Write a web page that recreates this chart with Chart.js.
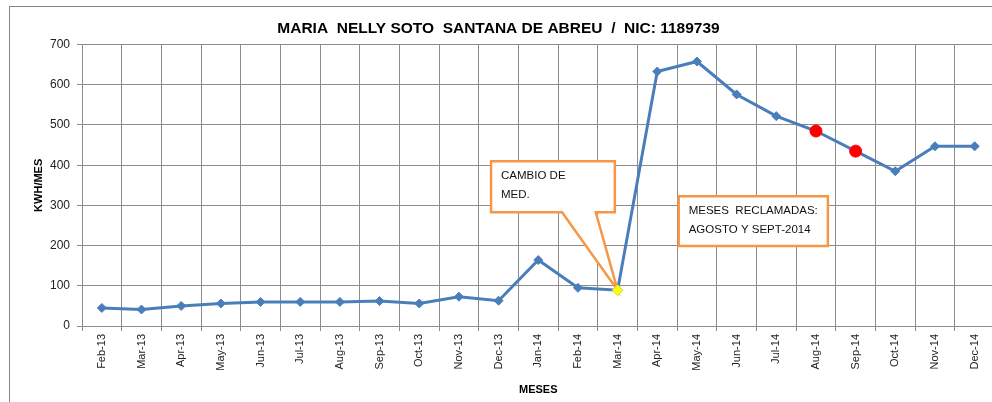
<!DOCTYPE html>
<html>
<head>
<meta charset="utf-8">
<script src="https://cdn.jsdelivr.net/npm/chart.js@4/dist/chart.umd.min.js"></script>
<style>
  html, body { margin: 0; padding: 0; background: #fff; overflow: hidden; }
  #wrap { position: relative; width: 1000px; height: 402px; }
  #frame { position: absolute; left: 9px; top: 6px; width: 1000px; height: 420px;
           border-left: 1px solid #858585; border-top: 1px solid #858585; }
  #chart { position: absolute; left: 0; top: 0; }
</style>
</head>
<body>
<div id="wrap">
  <div id="frame"></div>
  <canvas id="chart" width="1000" height="402"></canvas>
</div>
<script>
// months on the x axis
const months = ['Feb-13', 'Mar-13', 'Apr-13', 'May-13', 'Jun-13', 'Jul-13', 'Aug-13', 'Sep-13',
  'Oct-13', 'Nov-13', 'Dec-13', 'Jan-14', 'Feb-14', 'Mar-14', 'Apr-14', 'May-14', 'Jun-14',
  'Jul-14', 'Aug-14', 'Sep-14', 'Oct-14', 'Nov-14', 'Dec-14'];

// kWh per month
const kwh = [45, 41, 50, 56, 60, 60, 60, 62, 56, 73, 63, 164, 95, 89,
  633, 658, 576, 522, 485, 435, 385, 447, 447];

const meterChange = 'Mar-14';            // yellow marker
const claimedMonths = ['Aug-14', 'Sep-14']; // red markers

const yTicks = [0, 100, 200, 300, 400, 500, 600, 700];

const blue = '#4A7EBB';
const orange = '#F79646';
const gridColor = '#8c8c8c';
const fontFam = "'Liberation Sans', Arial, sans-serif";

const pointColors = months.map(m => claimedMonths.includes(m) ? '#FF0000' : (m === meterChange ? '#FFFF00' : blue));
const pointBorders = months.map(m => claimedMonths.includes(m) ? '#FF0000' : (m === meterChange ? '#C9D96B' : blue));
const pointStyles = months.map(m => claimedMonths.includes(m) ? 'circle' : 'rectRot');
const pointRadii = months.map(m => claimedMonths.includes(m) ? 6 : (m === meterChange ? 5.5 : 4.5));

// callout boxes, in category index / kWh units
const callouts = [
  { lines: ['CAMBIO DE', 'MED.'], x0: 9.81, x1: 12.93, y0: 410, y1: 283,
    tail: { from: 11.6, to: 12.45, target: meterChange } },
  { lines: ['MESES  RECLAMADAS:', 'AGOSTO Y SEPT-2014'], x0: 14.54, x1: 18.3, y0: 323, y1: 199 }
];

const calloutPlugin = {
  id: 'callouts',
  beforeDatasetsDraw(chart) {
    const { ctx, scales: { x, y } } = chart;
    ctx.save();
    callouts.forEach(c => {
      const l = x.getPixelForValue(c.x0), r = x.getPixelForValue(c.x1);
      const t = y.getPixelForValue(c.y0), b = y.getPixelForValue(c.y1);
      ctx.beginPath();
      ctx.moveTo(l, t);
      ctx.lineTo(r, t);
      ctx.lineTo(r, b);
      if (c.tail) {
        const i = months.indexOf(c.tail.target);
        ctx.lineTo(x.getPixelForValue(c.tail.to), b);
        ctx.lineTo(x.getPixelForValue(i), y.getPixelForValue(kwh[i]));
        ctx.lineTo(x.getPixelForValue(c.tail.from), b);
      }
      ctx.lineTo(l, b);
      ctx.closePath();
      ctx.fillStyle = '#fff';
      ctx.fill();
      ctx.lineWidth = 2.5;
      ctx.strokeStyle = orange;
      ctx.lineJoin = 'miter';
      ctx.stroke();
      ctx.fillStyle = '#111';
      ctx.font = '11.5px ' + fontFam;
      ctx.textBaseline = 'middle';
      c.lines.forEach((s, k) => ctx.fillText(s, l + 10, t + 15 + k * 19));
    });
    ctx.restore();
  }
};

new Chart(document.getElementById('chart'), {
  type: 'line',
  data: {
    labels: months,
    datasets: [{
      data: kwh,
      borderColor: blue,
      borderWidth: 3,
      tension: 0,
      pointStyle: pointStyles,
      pointRadius: pointRadii,
      pointBackgroundColor: pointColors,
      pointBorderColor: pointBorders,
      pointBorderWidth: 1
    }]
  },
  options: {
    responsive: false,
    animation: false,
    layout: { padding: { left: 0, right: 3, top: 0, bottom: 0 } },
    plugins: {
      legend: { display: false },
      tooltip: { enabled: false },
      title: {
        display: true,
        text: 'MARIA  NELLY SOTO  SANTANA DE ABREU  /  NIC: 1189739',
        color: '#000',
        font: { family: fontFam, size: 15.5, weight: 'bold' },
        padding: { top: 19, bottom: 7 }
      }
    },
    scales: {
      x: {
        offset: true,
        grid: { offset: true, color: gridColor, tickLength: 5, drawTicks: true },
        border: { color: gridColor },
        ticks: {
          minRotation: 90, maxRotation: 90, autoSkip: false, padding: 3,
          color: '#222', font: { family: fontFam, size: 11 }
        },
        title: {
          display: true, text: 'MESES', color: '#000',
          font: { family: fontFam, size: 11, weight: 'bold' },
          padding: { top: 0, bottom: 5 }
        },
        afterFit(scale) { scale.height = 76; }
      },
      y: {
        min: 0, max: 700,
        afterBuildTicks(scale) { scale.ticks = yTicks.map(v => ({ value: v })); },
        grid: { color: gridColor, tickLength: 5 },
        border: { color: gridColor },
        ticks: { padding: 7, color: '#222', font: { family: fontFam, size: 12 } },
        title: {
          display: true, text: 'KWH/MES', color: '#000',
          font: { family: fontFam, size: 11, weight: 'bold' },
          padding: { top: 32, bottom: 0 }
        },
        afterFit(scale) { scale.width = 82; }
      }
    }
  },
  plugins: [calloutPlugin]
});
</script>
</body>
</html>
